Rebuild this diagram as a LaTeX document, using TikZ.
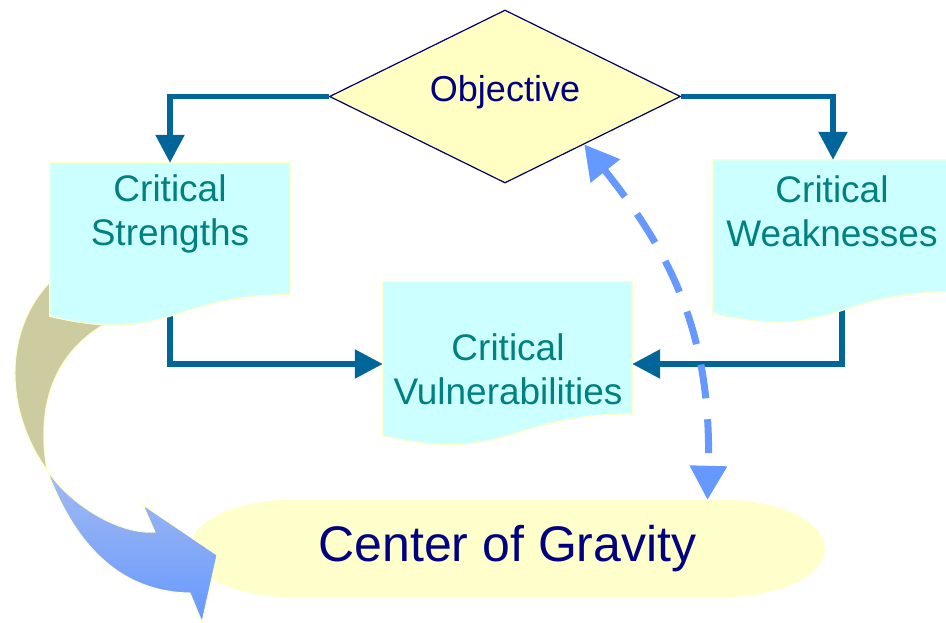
\documentclass[tikz,border=0pt]{standalone}
\usepackage{fontspec}
\setmainfont{Liberation Sans}
\usetikzlibrary{shapes.geometric,arrows.meta,calc}
\pgfdeclarelayer{bg}
\pgfdeclarelayer{mid}
\pgfsetlayers{bg,mid,main}
\definecolor{conncol}{RGB}{0,102,153}
\definecolor{docfillc}{RGB}{204,255,255}
\definecolor{paleyel}{RGB}{255,255,204}
\definecolor{diamfill}{RGB}{255,255,196}
\definecolor{navytxt}{RGB}{0,0,128}
\definecolor{diamline}{RGB}{0,0,102}
\definecolor{tealtxt}{RGB}{0,128,128}
\definecolor{dashblue}{RGB}{102,153,255}
\definecolor{khakic}{RGB}{204,204,160}
\definecolor{lightblue}{RGB}{164,186,240}
\tikzset{
  docbox/.style={rectangle, draw=none, inner sep=0pt, minimum width=240pt, minimum height=164pt},
  doctext/.style={text=tealtxt, align=center, font=\fontsize{37}{44}\selectfont},
  docfill/.style={fill=docfillc, draw=paleyel, line width=1.2pt},
  conn/.style={draw=conncol, line width=5.5pt, -{Triangle[length=28pt,width=28pt]}},
  dasharrow/.style={draw=dashblue, line width=7pt, dash pattern=on 34pt off 21pt,
     {Triangle[length=34pt,width=36pt]}-{Triangle[length=34pt,width=36pt]}},
}
\newcommand\docpath[1]{%
  \path[docfill] (#1.north west) -- (#1.north east) -- ($(#1.north east)!0.802!(#1.south east)$)
    .. controls ($(#1.north)!0.802!(#1.south)$) and ($(#1.north)!1.1075!(#1.south)$) ..
    ($(#1.north west)!0.934!(#1.south west)$) -- cycle;}
\begin{document}
\begin{tikzpicture}[x=1pt,y=-1pt]
\useasboundingbox (0,0) rectangle (946,623);
% nodes
\node[diamond, aspect=2, inner sep=0pt, minimum width=351pt, minimum height=173pt,
      fill=diamfill, draw=diamline, line width=1.2pt] (obj) at (505,96.5) {};
\node[text=navytxt, font=\fontsize{36}{43}\selectfont] (objt) at (505,92) {Objective};
\node[docbox] (cs) at (170,245) {};
\node[doctext] (cst) at (170,214) {Critical\\Strengths};
\node[docbox] (cw) at (833,242) {};
\node[doctext] (cwt) at (832,211.5) {Critical\\Weaknesses};
\node[docbox, minimum width=249pt, minimum height=165pt] (cv) at (507.5,364) {};
\node[doctext] (cvt) at (508,369) {Critical\\Vulnerabilities};
\node[rectangle, inner sep=0pt, minimum width=635pt, minimum height=97pt,
      text=navytxt, font=\fontsize{50}{60}\selectfont] (cog) at (507.5,548.5) {Center of Gravity};
\coordinate (dtop) at ($(obj.east)!0.55!(obj.south)$);
% background pieces
\begin{pgfonlayer}{bg}
  \path[fill=khakic, draw=paleyel, line width=1pt]
    (75,262) .. controls (5,305) and (-3,400) .. (47,470)
    .. controls (38,420) and (45,360) .. (103,325) -- (130,300) -- cycle;
  \draw[conn] (cs.center) |- (cv.west);
  \draw[conn] ($(cw.center)+(9,0)$) |- (cv.east);
\end{pgfonlayer}
\begin{pgfonlayer}{mid}
  \docpath{cs}
  \docpath{cw}
  \docpath{cv}
  \path[fill=paleyel] (290,500) -- (725,500) .. controls (780.2,500) and (825,521.7) .. (825,548.5)
    .. controls (825,575.3) and (780.2,597) .. (725,597) -- (290,597)
    .. controls (234.8,597) and (190,575.3) .. (190,548.5)
    .. controls (190,521.7) and (234.8,500) .. (290,500) -- cycle;
\end{pgfonlayer}
% big curved arrow (blue part)
\path[draw=paleyel, line width=1pt, top color=lightblue, bottom color=dashblue]
  (47,470) .. controls (70,505) and (120,535) .. (155,532) -- (143,505) -- (217,555)
  -- (202,622) -- (190,593) .. controls (120,592) and (75,545) .. (47,470) -- cycle;
% connectors
\draw[conn] (obj.west) -| (cs.north);
\draw[conn] (obj.east) -| (cw.north);
\draw[dasharrow] (dtop) .. controls (668,250) and (712,330) .. ($(cog.north)+(200,0)$);
\end{tikzpicture}
\end{document}
